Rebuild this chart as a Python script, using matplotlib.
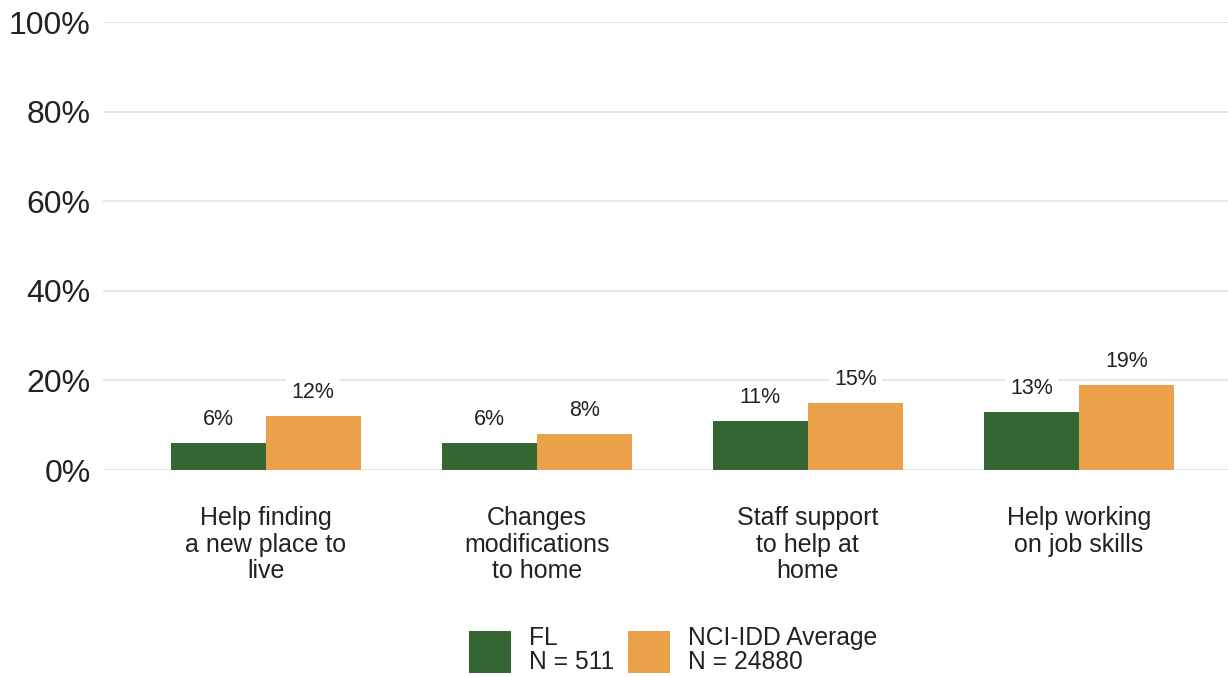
import numpy as np
from matplotlib import pyplot as plt

plt.rcParams['font.family'] = ['Liberation Sans', 'DejaVu Sans']

categories = ["Help finding\na new place to\nlive",
              "Changes\nmodifications\nto home",
              "Staff support\nto help at\nhome",
              "Help working\non job skills"]
fl_vals = [6, 6, 11, 13]
nci_vals = [12, 8, 15, 19]
series_names = ["FL\nN = 511", "NCI-IDD Average\nN = 24880"]
colors = ["#336633", "#EBA04A"]
yticks = [0, 20, 40, 60, 80, 100]

fig = plt.figure(figsize=(12.28, 6.77), dpi=100)
ax = fig.add_axes([103/1228, 207/677, 1 - 103/1228, 448/677])

x = np.arange(len(categories))
w = 0.35
b1 = ax.bar(x - w/2, fl_vals, w, color=colors[0], label=series_names[0], zorder=2)
b2 = ax.bar(x + w/2, nci_vals, w, color=colors[1], label=series_names[1], zorder=2)

for bars, vals in [(b1, fl_vals), (b2, nci_vals)]:
    for rect, v in zip(bars, vals):
        ax.annotate(f"{v}%", (rect.get_x() + rect.get_width()/2, rect.get_height()),
                    xytext=(0, 17), textcoords="offset points", ha="center", va="center",
                    fontsize=15.5, color="#222222", zorder=3,
                    bbox=dict(boxstyle="square,pad=0.25", fc="white", ec="none"))

ax.set_xlim(-0.6, 3.55)
ax.set_ylim(0, 100)
ax.set_yticks(yticks)
ax.set_yticklabels([f"{t}%" for t in yticks])
ax.set_xticks(x)
ax.set_xticklabels(categories, fontsize=18, linespacing=1.13, color="#222222")
ax.tick_params(axis="y", length=0, pad=9, labelsize=23, labelcolor="#222222")
ax.tick_params(axis="x", length=0, pad=26)
ax.grid(axis="y", color="#e8e8e8", linewidth=1.5, zorder=0)
ax.set_axisbelow(True)
for s in ax.spines.values():
    s.set_visible(False)

leg = fig.legend(loc="center", bbox_to_anchor=(673/1228, 27/677), ncol=2, frameon=False,
                 fontsize=17.7, handlelength=1.7, handleheight=2.25, handletextpad=0.73,
                 columnspacing=0.57, borderaxespad=0, labelcolor="#222222")
for t in leg.get_texts():
    t.set_linespacing(1.0)

fig.savefig("out.png", dpi=100)
